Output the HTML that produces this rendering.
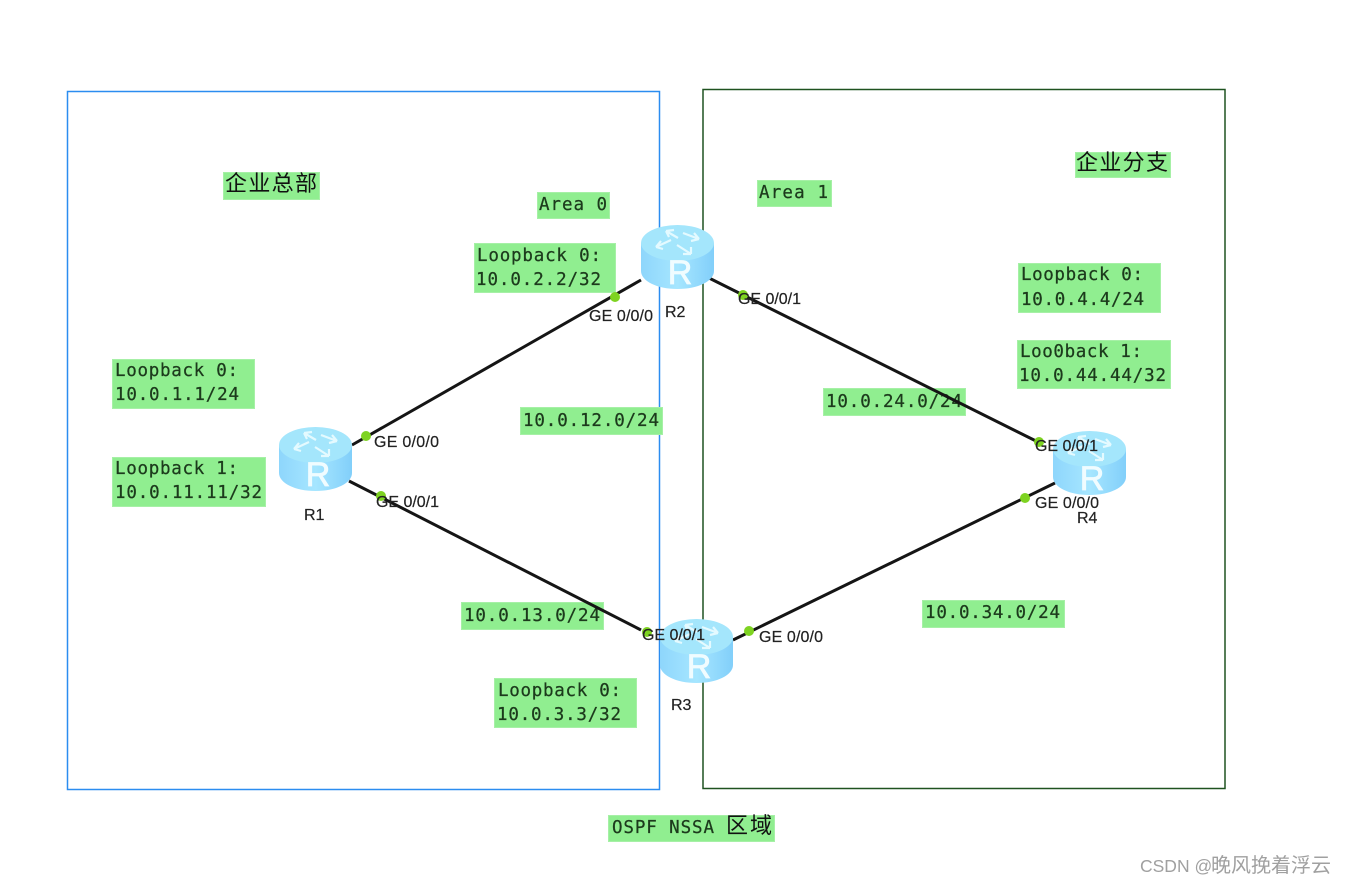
<!DOCTYPE html>
<html>
<head>
<meta charset="utf-8">
<style>
html,body{margin:0;padding:0;background:#fff}
svg{display:block;filter:blur(0.35px)}
.m{font-family:"DejaVu Sans Mono","Liberation Mono",monospace;font-size:17.5px;fill:#1c3a1c;stroke:#1c3a1c;stroke-width:.25}
.c{font-family:"Liberation Sans","Noto Sans CJK SC",sans-serif;font-size:22px;fill:#111}
.g{font-family:"Liberation Sans",sans-serif;font-size:16px;fill:#222;stroke:#222;stroke-width:.2}
.b{fill:#90ee90;stroke:#a6f0a6;stroke-width:1}
.d{fill:#7ed321}
.l{stroke:#151515;stroke-width:3;fill:none}
</style>
</head>
<body>
<svg width="1345" height="885" viewBox="0 0 1345 885" xmlns="http://www.w3.org/2000/svg">
<defs>
<linearGradient id="rg" x1="0" x2="1" y1="0" y2="0">
<stop offset="0" stop-color="#8ed6fc"/>
<stop offset="0.5" stop-color="#a6e6ff"/>
<stop offset="1" stop-color="#82cffa"/>
</linearGradient>
<g id="router">
<path d="M0 18 V46 C0 56 16 64 36.500 64 C57 64 73 56 73 46 V18 Z" fill="url(#rg)"/>
<ellipse cx="36.500" cy="18" rx="36.500" ry="18" fill="#a4e6fc"/>
<g fill="none" stroke="#e4faff" stroke-width="2.200">
<path d="M37 13 L25 6 M25 6 L33 5 M25 6 L28 12"/>
<path d="M42 8 L58 14 M58 14 L50 16 M58 14 L53 8"/>
<path d="M30 15 L15 22 M15 22 L22 24 M15 22 L20 16"/>
<path d="M36 20 L50 29 M50 29 L50 22 M50 29 L42 29"/>
</g>
<text x="39" y="59" text-anchor="middle" font-family="Liberation Sans,sans-serif" font-size="34" fill="#f0fcff" stroke="#f0fcff" stroke-width=".8">R</text>
</g>
</defs>

<rect x="67.500" y="91.500" width="592" height="698" fill="none" stroke="#2b8df0" stroke-width="1.500"/>
<rect x="703" y="89.500" width="522" height="699" fill="none" stroke="#1f5220" stroke-width="1.500"/>

<rect class="b" x="223.500" y="172.500" width="96" height="27"/>
<rect class="b" x="537.500" y="192.500" width="72" height="26"/>
<rect class="b" x="757.500" y="180.500" width="74" height="26"/>
<rect class="b" x="1075.500" y="152.500" width="95" height="25"/>
<rect class="b" x="474.500" y="243.500" width="141" height="49"/>
<rect class="b" x="112.500" y="359.500" width="142" height="49"/>
<rect class="b" x="112.500" y="457.500" width="153" height="49"/>
<rect class="b" x="1018.500" y="263.500" width="142" height="49"/>
<rect class="b" x="1017.500" y="340.500" width="153" height="48"/>
<rect class="b" x="520.500" y="407.500" width="142" height="27"/>
<rect class="b" x="823.500" y="388.500" width="142" height="27"/>
<rect class="b" x="461.500" y="602.500" width="142" height="27"/>
<rect class="b" x="922.500" y="600.500" width="142" height="27"/>
<rect class="b" x="494.500" y="678.500" width="142" height="49"/>
<rect class="b" x="608.500" y="815.500" width="166" height="26"/>

<text class="c" x="225" y="191" textLength="92">企业总部</text>
<text class="c" x="1076" y="170" textLength="92">企业分支</text>

<text class="m" x="539" y="210" textLength="68">Area 0</text>
<text class="m" x="759" y="198" textLength="69">Area 1</text>
<text class="m" x="477" y="261" textLength="124">Loopback 0:</text>
<text class="m" x="476" y="285" textLength="125">10.0.2.2/32</text>
<text class="m" x="115" y="376" textLength="123">Loopback 0:</text>
<text class="m" x="115" y="400" textLength="124">10.0.1.1/24</text>
<text class="m" x="115" y="474" textLength="123">Loopback 1:</text>
<text class="m" x="115" y="498" textLength="147">10.0.11.11/32</text>
<text class="m" x="1021" y="280" textLength="122">Loopback 0:</text>
<text class="m" x="1021" y="305" textLength="123">10.0.4.4/24</text>
<text class="m" x="1020" y="357" textLength="122">Loo0back 1:</text>
<text class="m" x="1019" y="381" textLength="147">10.0.44.44/32</text>
<text class="m" x="523" y="426" textLength="136">10.0.12.0/24</text>
<text class="m" x="826" y="407" textLength="136">10.0.24.0/24</text>
<text class="m" x="464" y="621" textLength="136">10.0.13.0/24</text>
<text class="m" x="925" y="618" textLength="135">10.0.34.0/24</text>
<text class="m" x="498" y="696" textLength="123">Loopback 0:</text>
<text class="m" x="497" y="720" textLength="124">10.0.3.3/32</text>
<text class="m" x="612" y="833" textLength="102">OSPF NSSA</text>
<text class="c" x="726" y="833" textLength="46">区域</text>

<path class="l" d="M352 445 L641 280"/>
<path class="l" d="M349 481 L641 630"/>
<path class="l" d="M709 278 L1040 443"/>
<path class="l" d="M733 640 L1055 483"/>

<use href="#router" x="641" y="225"/>
<use href="#router" x="279" y="427"/>
<use href="#router" x="660" y="619"/>
<use href="#router" x="1053" y="431"/>

<circle class="d" cx="366" cy="436" r="5"/>
<circle class="d" cx="381" cy="496" r="5"/>
<circle class="d" cx="615" cy="297" r="5"/>
<circle class="d" cx="743" cy="295" r="5"/>
<circle class="d" cx="647" cy="632" r="5"/>
<circle class="d" cx="749" cy="631" r="5"/>
<circle class="d" cx="1039" cy="442" r="5"/>
<circle class="d" cx="1025" cy="498" r="5"/>

<text class="g" x="374" y="447" textLength="65">GE 0/0/0</text>
<text class="g" x="376" y="507" textLength="63">GE 0/0/1</text>
<text class="g" x="589" y="321" textLength="64">GE 0/0/0</text>
<text class="g" x="738" y="304" textLength="63">GE 0/0/1</text>
<text class="g" x="642" y="640" textLength="63">GE 0/0/1</text>
<text class="g" x="759" y="642" textLength="64">GE 0/0/0</text>
<text class="g" x="1035" y="451" textLength="63">GE 0/0/1</text>
<text class="g" x="1035" y="508" textLength="64">GE 0/0/0</text>

<text class="g" x="304" y="520">R1</text>
<text class="g" x="665" y="317">R2</text>
<text class="g" x="671" y="710">R3</text>
<text class="g" x="1077" y="523">R4</text>

<text x="1140" y="872" font-family="'Liberation Sans',sans-serif" font-size="17.500" fill="#a0a0a0">CSDN @</text>
<text x="1211" y="872" font-family="'Noto Sans CJK SC',sans-serif" font-size="20" fill="#a0a0a0">晚风挽着浮云</text>
</svg>
</body>
</html>
